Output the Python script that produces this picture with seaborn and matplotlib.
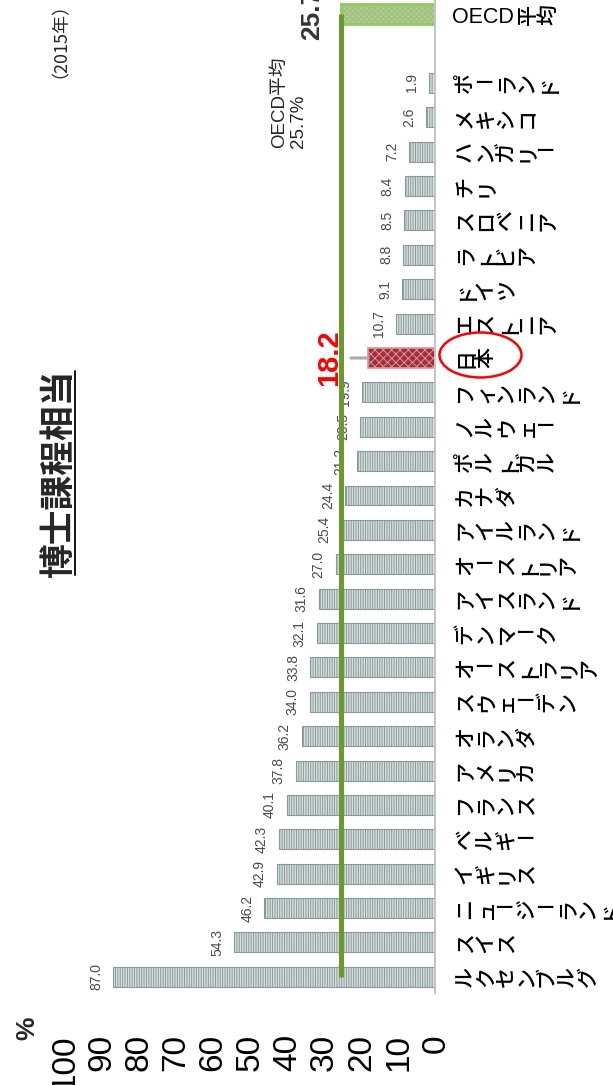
import matplotlib
matplotlib.use("Agg")
import matplotlib.pyplot as plt
import pandas as pd
import seaborn as sns
from matplotlib.patches import Ellipse
from matplotlib.lines import Line2D
from matplotlib.transforms import IdentityTransform, blended_transform_factory

# Doctoral-level enrolment share by country (%), 2015
countries = ["ルクセンブルグ", "スイス", "ニュージーランド", "イギリス", "ベルギー", "フランス",
             "アメリカ", "オランダ", "スウェーデン", "オーストラリア", "デンマーク", "アイスランド",
             "オーストリア", "アイルランド", "カナダ", "ポルトガル", "ノルウェー", "フィンランド",
             "日本", "エストニア", "ドイツ", "ラトビア", "スロベニア", "チリ", "ハンガリー",
             "メキシコ", "ポーランド"]
rates = [87.0, 54.3, 46.2, 42.9, 42.3, 40.1, 37.8, 36.2, 34.0, 33.8, 32.1, 31.6,
         27.0, 25.4, 24.4, 21.2, 20.5, 19.9, 18.2, 10.7, 9.1, 8.8, 8.5, 8.4, 7.2,
         2.6, 1.9]
oecd_label = "OECD平均"
oecd_rate = 25.7
highlight = "日本"
value_ticks = [0, 10, 20, 30, 40, 50, 60, 70, 80, 90, 100]

title = "博士課程相当"
year_note = "（2015年）"
oecd_note = "OECD平均\n25.7%"
unit = "%"

spacer = " "
order = [oecd_label, spacer] + countries[::-1]
df = pd.DataFrame({"country": countries + [oecd_label], "rate": rates + [oecd_rate]})

sns.set_theme(style="white")
plt.rcParams["font.family"] = ["Liberation Sans", "Noto Sans CJK JP", "DejaVu Sans"]
plt.rcParams["hatch.linewidth"] = 0.7

W, H = 613, 1085
fig = plt.figure(figsize=(W / 100, H / 100), dpi=100)
ax_left, ax_right, ax_bottom, ax_top = 64.6, 436.0, 994.0, -3.0
ax = fig.add_axes([ax_left / W, (H - ax_bottom) / H,
                   (ax_right - ax_left) / W, (ax_bottom - ax_top) / H])

sns.barplot(data=df, x="rate", y="country", order=order, orient="h",
            width=0.58, color="#d2dcdc", saturation=1, errorbar=None, ax=ax)
ax.set_xlim(100, 0)
ax.set_ylim(len(order) - 0.5, -0.5)

# bar fills: grey stripes, Japan in red, OECD average in green
for p in ax.patches:
    yc = p.get_y() + p.get_height() / 2
    name = order[int(round(yc))]
    if name == highlight:
        p.set_facecolor("#a22e3b")
        p.set_edgecolor("#df949d")
        p.set_hatch("xxxx")
        p.set_linewidth(1.2)
    elif name == oecd_label:
        p.set_facecolor("#b3c6a8")
        p.set_edgecolor("#93c95e")
        p.set_hatch("xxxxxx")
        p.set_linewidth(2.0)
    else:
        p.set_facecolor("#d6e0e0")
        p.set_edgecolor("#8c9898")
        p.set_hatch("|" * 7)
        p.set_linewidth(0.8)

for s in ax.spines.values():
    s.set_visible(False)
ax.set_xlabel("")
ax.set_ylabel("")
ax.set_yticks([])
ax.set_xticks(value_ticks)
ax.set_xticklabels([str(v) for v in value_ticks])
ax.tick_params(axis="x", length=0, pad=29, labelsize=24, labelrotation=90,
               labelcolor="black")

# zero baseline and OECD average line
ax.axvline(0, color="#c4c4c4", lw=3.6, zorder=4)
pos = {name: i for i, name in enumerate(order)}
ax.plot([oecd_rate, oecd_rate], [pos[countries[0]], pos[oecd_label]],
        color="#6a9a2e", lw=3.6, solid_capstyle="butt", zorder=5)

# value labels
for name, v in zip(countries, rates):
    i = pos[name]
    if name == highlight:
        ax.annotate(f"{v:.1f}", xy=(v, i), xytext=(-25, 0), textcoords="offset pixels",
                    rotation=90, ha="right", va="center", fontsize=21,
                    fontweight="bold", color="#ff0000", zorder=6,
                    arrowprops=dict(arrowstyle="-", color="#aaaaaa", lw=2.2,
                                    shrinkA=3, shrinkB=0))
    else:
        ax.annotate(f"{v:.1f}", xy=(v, i), xytext=(-10, 0), textcoords="offset pixels",
                    rotation=90, ha="right", va="center", fontsize=10,
                    color="#4a4a4a", zorder=4.5)
ax.annotate(f"{oecd_rate:.1f}", xy=(oecd_rate, pos[oecd_label]), xytext=(-16, 0),
            textcoords="offset pixels", rotation=90, ha="right", va="center",
            fontsize=19, fontweight="bold", color="#333333", annotation_clip=False)

# category labels, set as a column of turned characters
trans_lab = blended_transform_factory(ax.transAxes, ax.transData)
em = 21.0
adv = 20.5
first = 17 + 0.86 * em
cjk = "Noto Sans CJK JP"


def turned_chars(text, i, start):
    for j, ch in enumerate(text):
        x = start + j * adv
        if ch == "ー":
            # the long-vowel bar already lies across the column
            ax.annotate(ch, xy=(1, i), xycoords=trans_lab,
                        xytext=(x - 0.38 * em, 0), textcoords="offset pixels",
                        ha="center", va="center", fontsize=em * 0.66, family=cjk,
                        fontweight="medium", color="black", annotation_clip=False)
        else:
            ax.annotate(ch, xy=(1, i), xycoords=trans_lab,
                        xytext=(x, 0), textcoords="offset pixels",
                        rotation=90, rotation_mode="anchor", ha="center", va="baseline",
                        fontsize=em * 0.72, family=cjk, fontweight="medium",
                        color="black", annotation_clip=False)


label_cells = {}
for name in countries:
    turned_chars(name, pos[name], first)
    label_cells[name] = (17, 17 + len(name) * adv)

oecd_latin = "".join(c for c in oecd_label if c.isascii())
oecd_kanji = "".join(c for c in oecd_label if not c.isascii())
t_oecd = ax.annotate(oecd_latin, xy=(1, pos[oecd_label]), xycoords=trans_lab,
                     xytext=(16, -3), textcoords="offset pixels", ha="left", va="center",
                     fontsize=15.5, color="black", annotation_clip=False)

# titles and notes
t_title = fig.text(58 / W, 1 - 473 / H, title, rotation=90, ha="center", va="center",
                   fontsize=25, fontweight="bold", family=cjk)
fig.text(51 / W, 1 - 31 / H, year_note, rotation=90, ha="center", va="center",
         fontsize=13, family=[cjk])
fig.text(289 / W, 1 - 148 / H, oecd_note, rotation=90, ha="center", va="bottom",
         multialignment="left", fontsize=13.5, linespacing=1.15)
fig.text(27 / W, 1 - 1028 / H, unit, rotation=90, ha="center", va="center",
         fontsize=19, fontweight="bold")

fig.canvas.draw()
renderer = fig.canvas.get_renderer()

# kanji after the Latin part of the OECD label
bb = t_oecd.get_window_extent(renderer)
x_axes_right = ax.transAxes.transform((1, 0))[0]
turned_chars(oecd_kanji, pos[oecd_label], bb.x1 - x_axes_right + 2 + 0.86 * em)

# underline under the title
tb = t_title.get_window_extent(renderer)
fig.add_artist(Line2D([tb.x1 - 1, tb.x1 - 1], [tb.y0 + 2, tb.y1 - 2],
                      transform=IdentityTransform(), color="black", lw=1.3))

# red ring around the highlighted country
yj = ax.transData.transform((0, pos[highlight]))[1]
c0, c1 = label_cells[highlight]
fig.add_artist(Ellipse((x_axes_right + (c0 + c1) / 2 + 7, yj + 3), width=82, height=45,
                       transform=IdentityTransform(), fill=False, ec="#ff0000", lw=1.8))

fig.savefig("out.png", dpi=100, facecolor="white")
